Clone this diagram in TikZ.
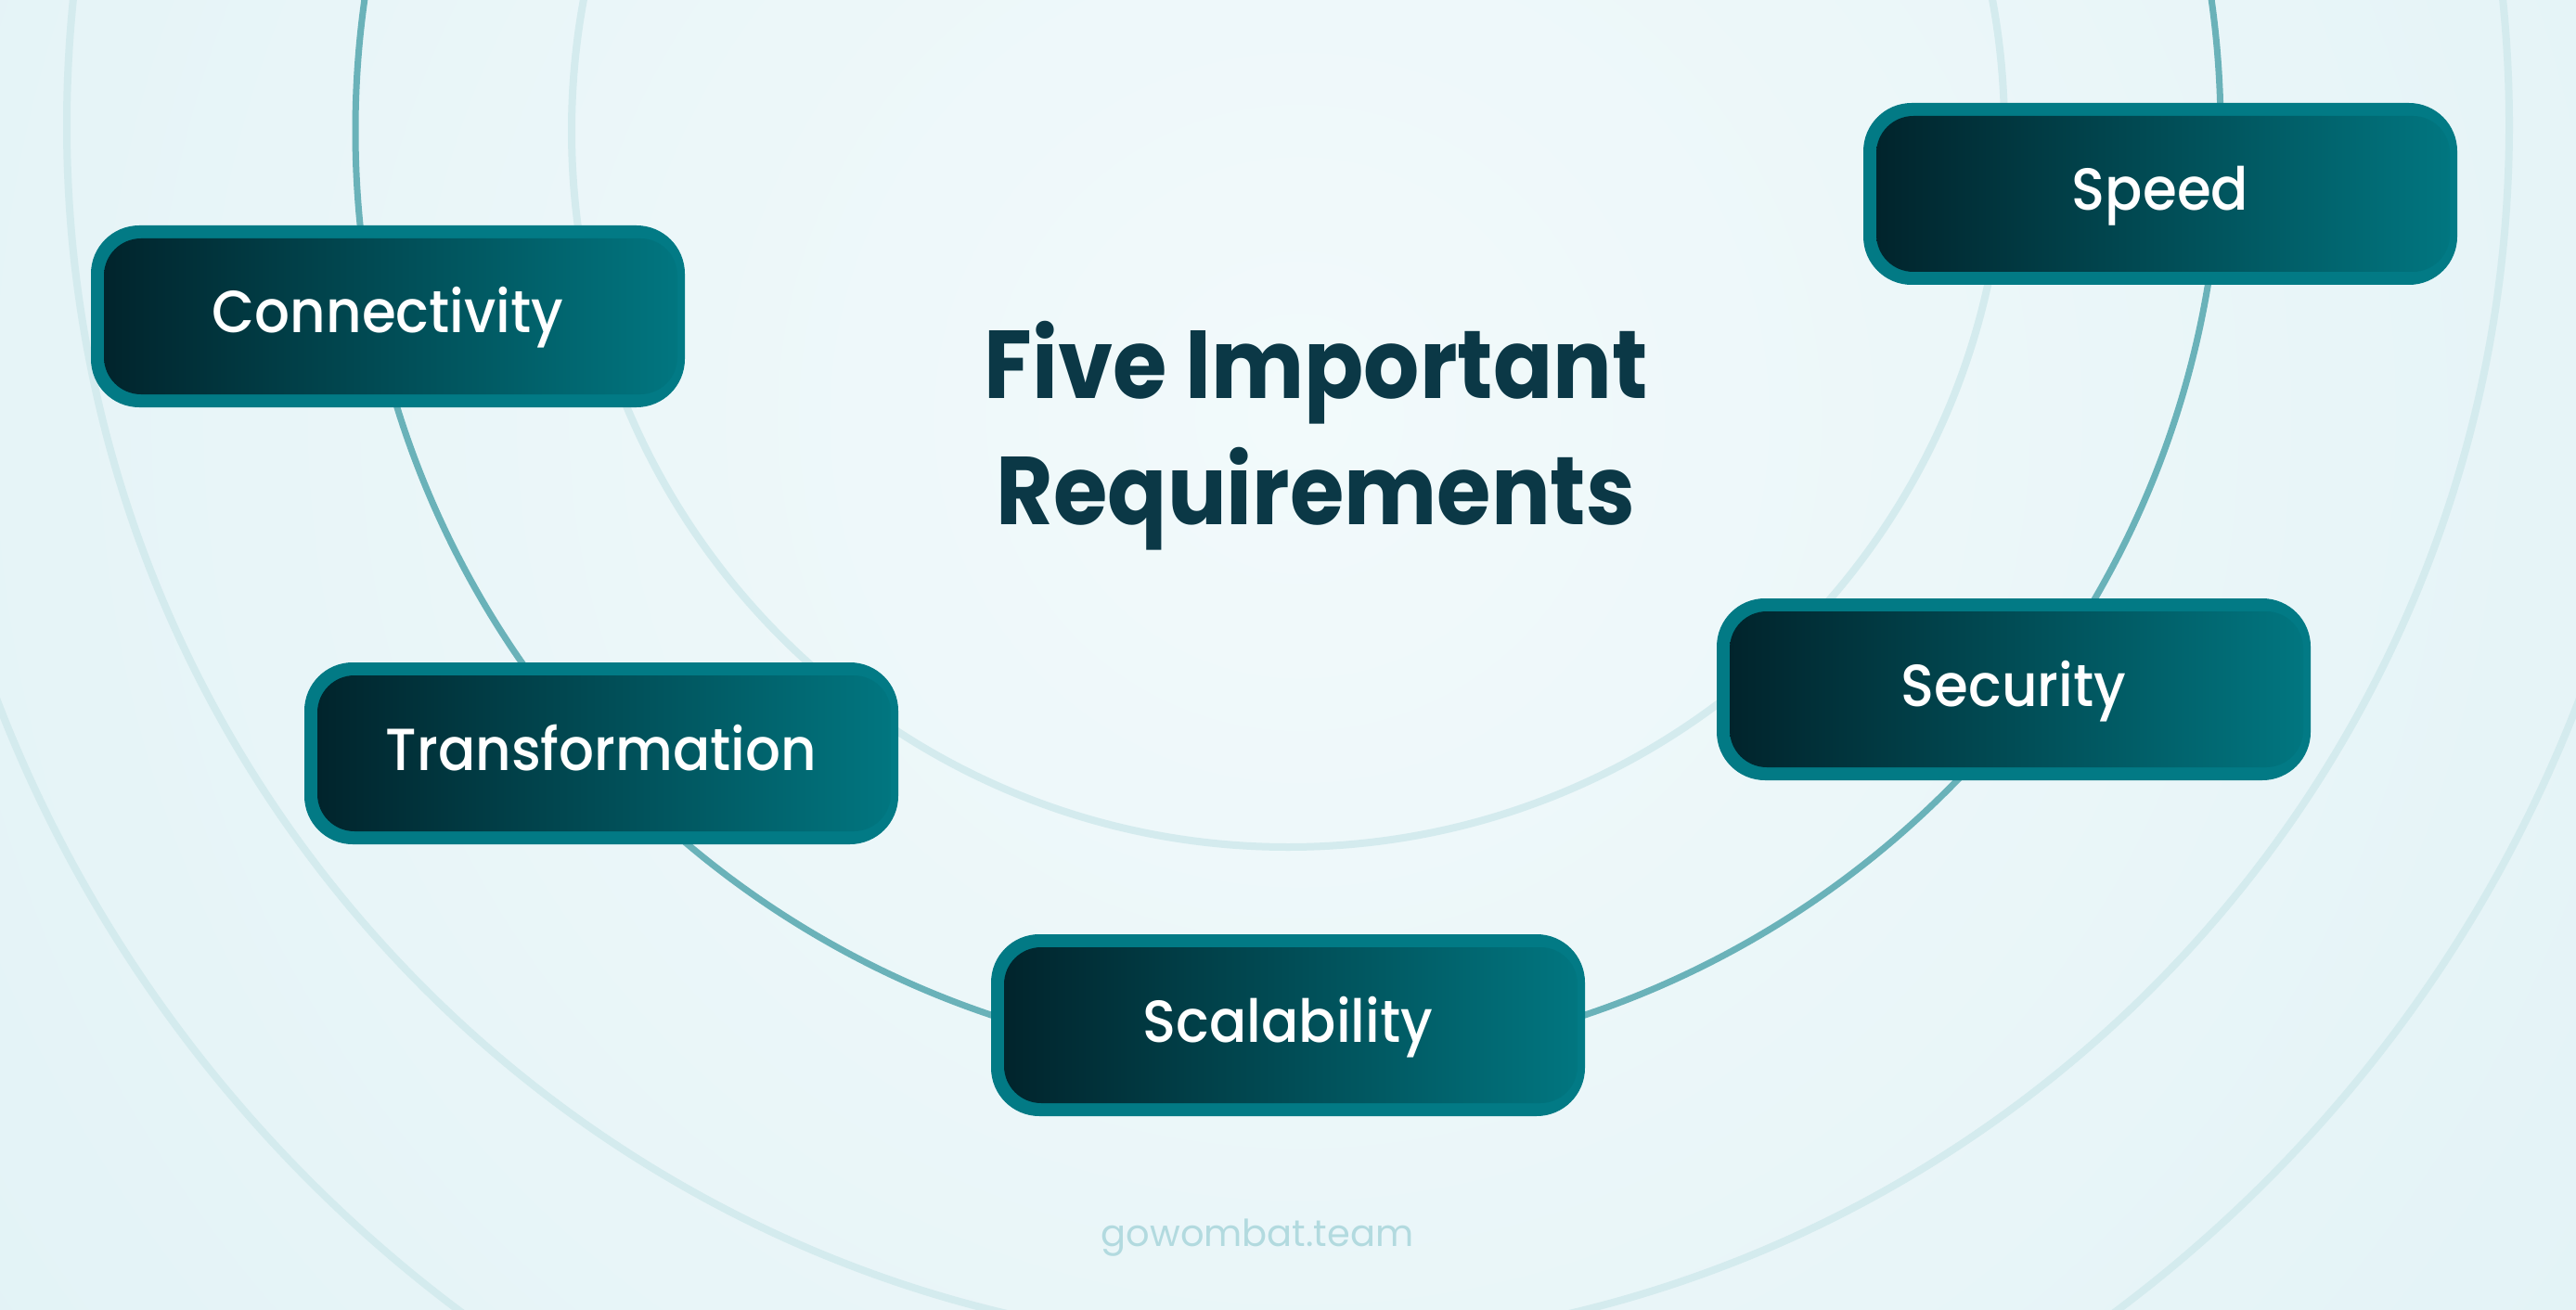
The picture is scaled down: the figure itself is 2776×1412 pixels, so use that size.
\documentclass[tikz,border=0pt]{standalone}
\usepackage{fontspec}
\setmainfont{Poppins}
\IfFontExistsTF{Poppins Medium}
  {\newfontfamily\boxfont{Poppins Medium}[FakeStretch=0.93]}
  {\newfontfamily\boxfont{Poppins}[FakeStretch=0.93,FakeBold=0.6]}
\newfontfamily\titlefont{Poppins}[FakeStretch=0.91]
\definecolor{bgEdge}{HTML}{E2F2F6}
\definecolor{bgCenter}{HTML}{F2FAFB}
\definecolor{lightRing}{HTML}{D4EBEE}
\definecolor{tealRing}{HTML}{6AB2B9}
\definecolor{boxBorder}{HTML}{027A85}
\definecolor{gradL}{HTML}{01222A}
\definecolor{gradR}{HTML}{017781}
\definecolor{titleCol}{HTML}{0B3846}
\definecolor{footerCol}{HTML}{B2DADF}
\tikzset{
  reqbox/.style={minimum width=640pt, minimum height=196pt, inner sep=0pt,
    rounded corners=52pt, fill=boxBorder, text=white,
    font=\boxfont\fontsize{64}{70}\selectfont, text height=36pt, text depth=0pt,
    path picture={\shade[left color=gradL, right color=gradR, rounded corners=40pt]
      ([xshift=14pt,yshift=-14pt]path picture bounding box.north west) rectangle
      ([xshift=-8pt,yshift=14pt]path picture bounding box.south east);}},
  ringlight/.style={draw=lightRing, line width=8pt},
  ringteal/.style={draw=tealRing, line width=7pt},
  titletext/.style={text=titleCol, align=center, inner sep=0pt,
    font=\titlefont\fontsize{104}{136}\selectfont\bfseries},
  footertext/.style={text=footerCol, inner sep=0pt, font=\fontsize{40}{48}\selectfont}
}
\begin{document}
\begin{tikzpicture}[x=1pt,y=-1pt]
\useasboundingbox (0,0) rectangle (2776,1412);
\begin{scope}
\clip (0,0) rectangle (2776,1412);
\fill[bgEdge] (0,0) rectangle (2776,1412);
\shade[inner color=bgCenter, outer color=bgEdge] (1400,450) circle[radius=1800pt];
\draw[ringlight] (1388,141) circle[radius=772pt];
\draw[ringlight] (1388,135) circle[radius=1316pt];
\draw[ringlight] (1388,220) circle[radius=1490pt];
\draw[ringteal] (1388,141) circle[radius=1005pt];
\end{scope}
\node[reqbox] (speed) at (2328,209) {Speed};
\node[reqbox] (conn) at (418,341) {Connectivity};
\node[reqbox] (trans) at (648,812) {Transformation};
\node[reqbox] (sec) at (2170,743) {Security};
\node[reqbox] (scal) at (1388,1105) {Scalability};
\node[titletext] (title) at (1418,470) {Five Important\\Requirements};
\node[footertext, anchor=base] (site) at (1355,1343) {gowombat.team};
\end{tikzpicture}
\end{document}
